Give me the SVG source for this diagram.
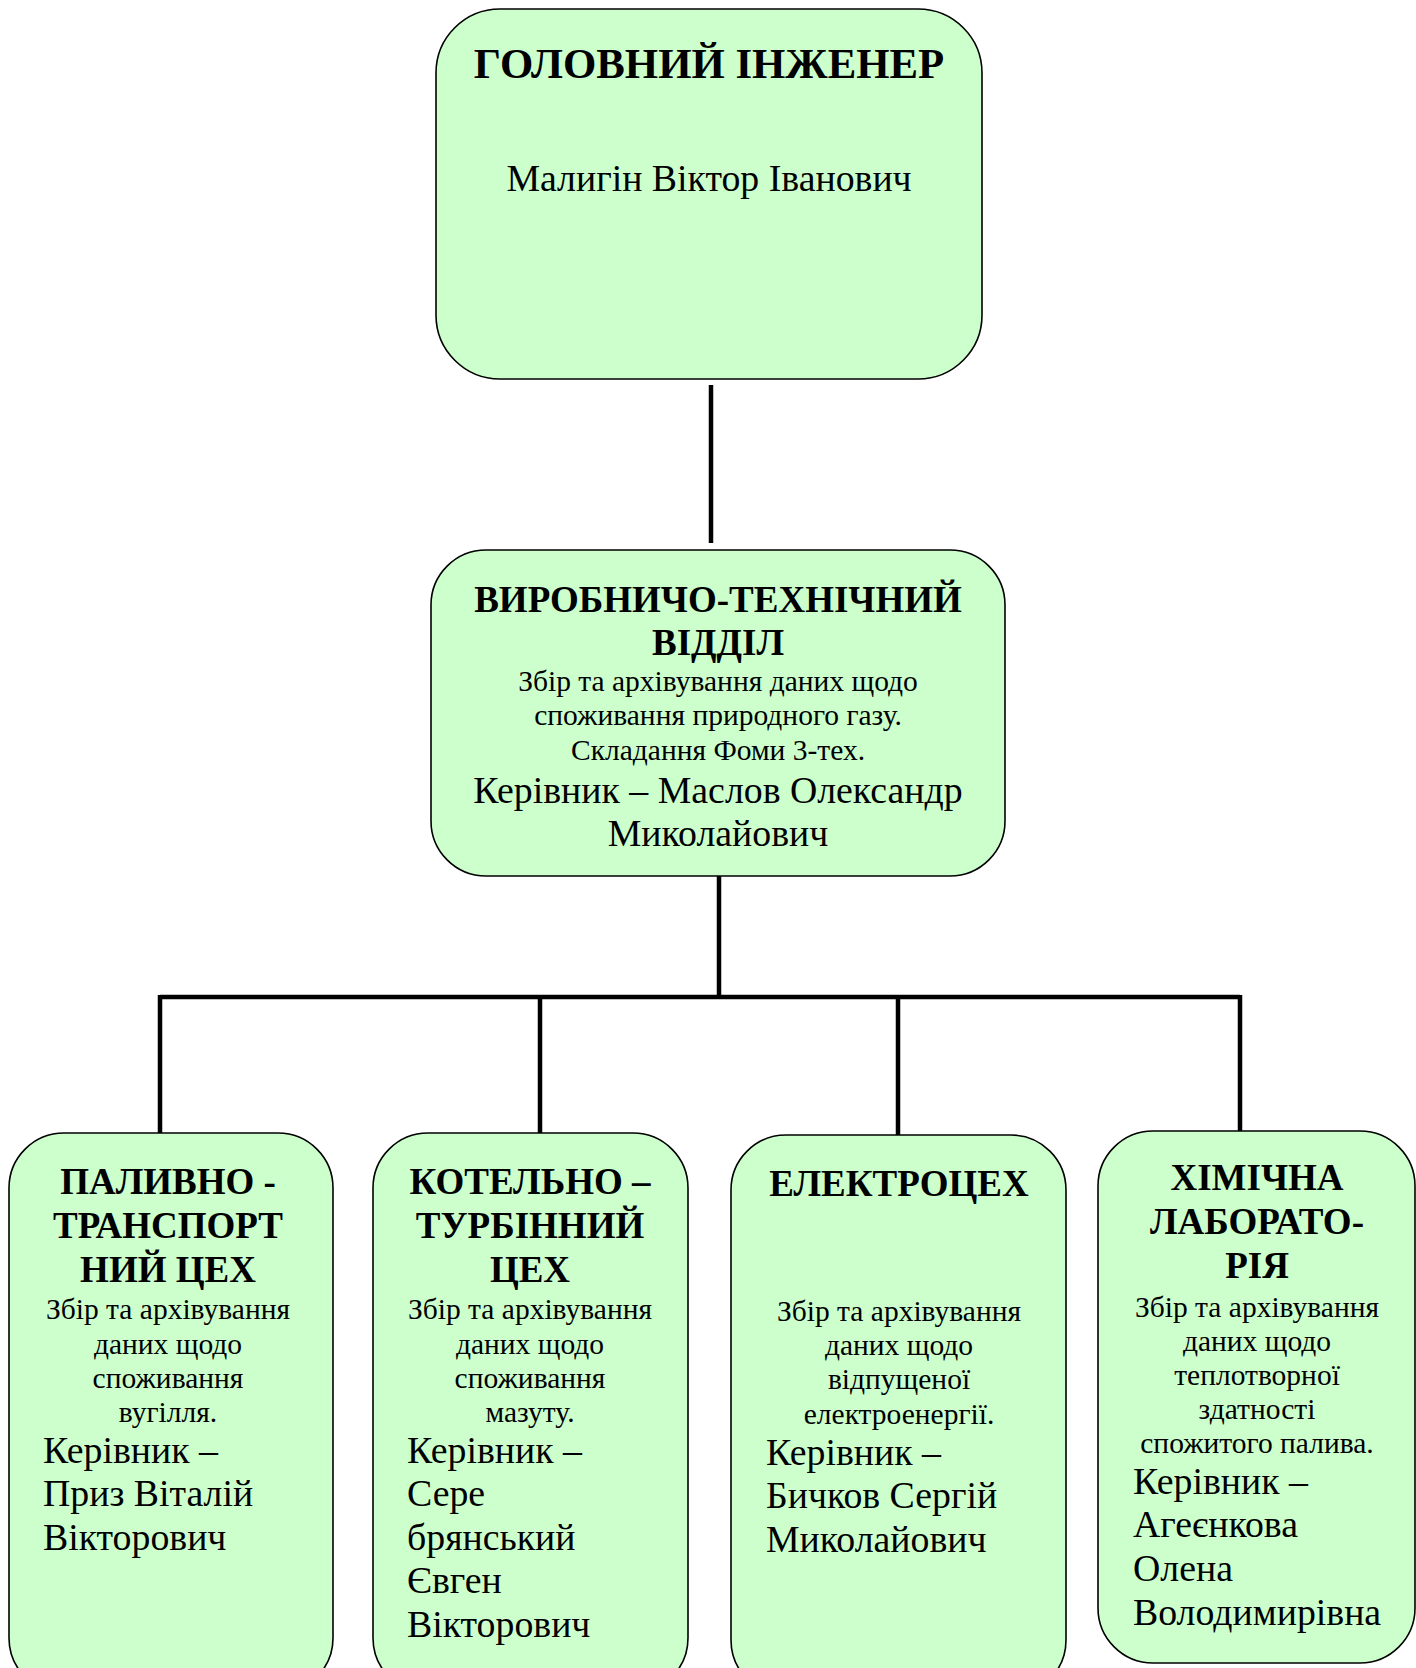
<svg xmlns="http://www.w3.org/2000/svg" width="1416" height="1668" viewBox="0 0 1416 1668">
<style>
.box{fill:#ccffcc;stroke:#000;stroke-width:1.6}
.t{font-family:"Liberation Serif","Times New Roman",serif;fill:#000}
.h{font-weight:bold;font-size:37px;text-anchor:middle}
.s{font-size:29.5px;text-anchor:middle}
.m{font-size:37.8px}
.c{text-anchor:middle}
.ln{stroke:#000;stroke-width:4.5;fill:none}
</style>
<rect width="1416" height="1668" fill="#fff"/>
<g id="connectors">
<line class="ln" x1="711" y1="385" x2="711" y2="543"/>
<line class="ln" x1="719" y1="876" x2="719" y2="997"/>
<line class="ln" x1="160" y1="997" x2="1240" y2="997"/>
<line class="ln" x1="160" y1="995" x2="160" y2="1133"/>
<line class="ln" x1="540" y1="997" x2="540" y2="1133"/>
<line class="ln" x1="898" y1="997" x2="898" y2="1135"/>
<line class="ln" x1="1240" y1="995" x2="1240" y2="1131"/>
</g>
<g id="chief">
<rect class="box" x="436" y="9" width="546" height="370" rx="64"/>
<text class="t h" x="709" y="78" style="font-size:42.8px">ГОЛОВНИЙ ІНЖЕНЕР</text>
<text class="t m c" x="709" y="191">Малигін Віктор Іванович</text>
</g>
<g id="vto">
<rect class="box" x="431" y="550" width="574" height="326" rx="55"/>
<text class="t h" x="718" y="612">ВИРОБНИЧО-ТЕХНІЧНИЙ</text>
<text class="t h" x="718" y="655">ВІДДІЛ</text>
<text class="t s" x="718" y="691">Збір та архівування даних щодо</text>
<text class="t s" x="718" y="725">споживання природного газу.</text>
<text class="t s" x="718" y="760">Складання Фоми 3-тех.</text>
<text class="t m c" x="718" y="803">Керівник – Маслов Олександр</text>
<text class="t m c" x="718" y="846">Миколайович</text>
</g>
<g id="ptc">
<rect class="box" x="9" y="1133" width="324" height="560" rx="55"/>
<text class="t h" x="168" y="1194">ПАЛИВНО -</text>
<text class="t h" x="168" y="1238">ТРАНСПОРТ</text>
<text class="t h" x="168" y="1282">НИЙ ЦЕХ</text>
<text class="t s" x="168" y="1319">Збір та архівування</text>
<text class="t s" x="168" y="1354">даних щодо</text>
<text class="t s" x="168" y="1388">споживання</text>
<text class="t s" x="168" y="1422">вугілля.</text>
<text class="t m" x="43" y="1463">Керівник –</text>
<text class="t m" x="43" y="1506">Приз Віталій</text>
<text class="t m" x="43" y="1550">Вікторович</text>
</g>
<g id="ktc">
<rect class="box" x="373" y="1133" width="315" height="560" rx="55"/>
<text class="t h" x="530" y="1194">КОТЕЛЬНО –</text>
<text class="t h" x="530" y="1238">ТУРБІННИЙ</text>
<text class="t h" x="530" y="1282">ЦЕХ</text>
<text class="t s" x="530" y="1319">Збір та архівування</text>
<text class="t s" x="530" y="1354">даних щодо</text>
<text class="t s" x="530" y="1388">споживання</text>
<text class="t s" x="530" y="1422">мазуту.</text>
<text class="t m" x="407" y="1463">Керівник –</text>
<text class="t m" x="407" y="1506">Сере</text>
<text class="t m" x="407" y="1550">брянський</text>
<text class="t m" x="407" y="1593">Євген</text>
<text class="t m" x="407" y="1637">Вікторович</text>
</g>
<g id="ec">
<rect class="box" x="731" y="1135" width="335" height="560" rx="55"/>
<text class="t h" x="899" y="1196">ЕЛЕКТРОЦЕХ</text>
<text class="t s" x="899" y="1321">Збір та архівування</text>
<text class="t s" x="899" y="1355">даних щодо</text>
<text class="t s" x="899" y="1389">відпущеної</text>
<text class="t s" x="899" y="1424">електроенергії.</text>
<text class="t m" x="766" y="1465">Керівник –</text>
<text class="t m" x="766" y="1508">Бичков Сергій</text>
<text class="t m" x="766" y="1552">Миколайович</text>
</g>
<g id="lab">
<rect class="box" x="1098" y="1131" width="317" height="532" rx="55"/>
<text class="t h" x="1257" y="1190">ХІМІЧНА</text>
<text class="t h" x="1257" y="1234">ЛАБОРАТО-</text>
<text class="t h" x="1257" y="1278">РІЯ</text>
<text class="t s" x="1257" y="1317">Збір та архівування</text>
<text class="t s" x="1257" y="1351">даних щодо</text>
<text class="t s" x="1257" y="1385">теплотворної</text>
<text class="t s" x="1257" y="1419">здатності</text>
<text class="t s" x="1257" y="1453">спожитого палива.</text>
<text class="t m" x="1133" y="1494">Керівник –</text>
<text class="t m" x="1133" y="1537">Агеєнкова</text>
<text class="t m" x="1133" y="1581">Олена</text>
<text class="t m" x="1133" y="1625">Володимирівна</text>
</g>
</svg>
